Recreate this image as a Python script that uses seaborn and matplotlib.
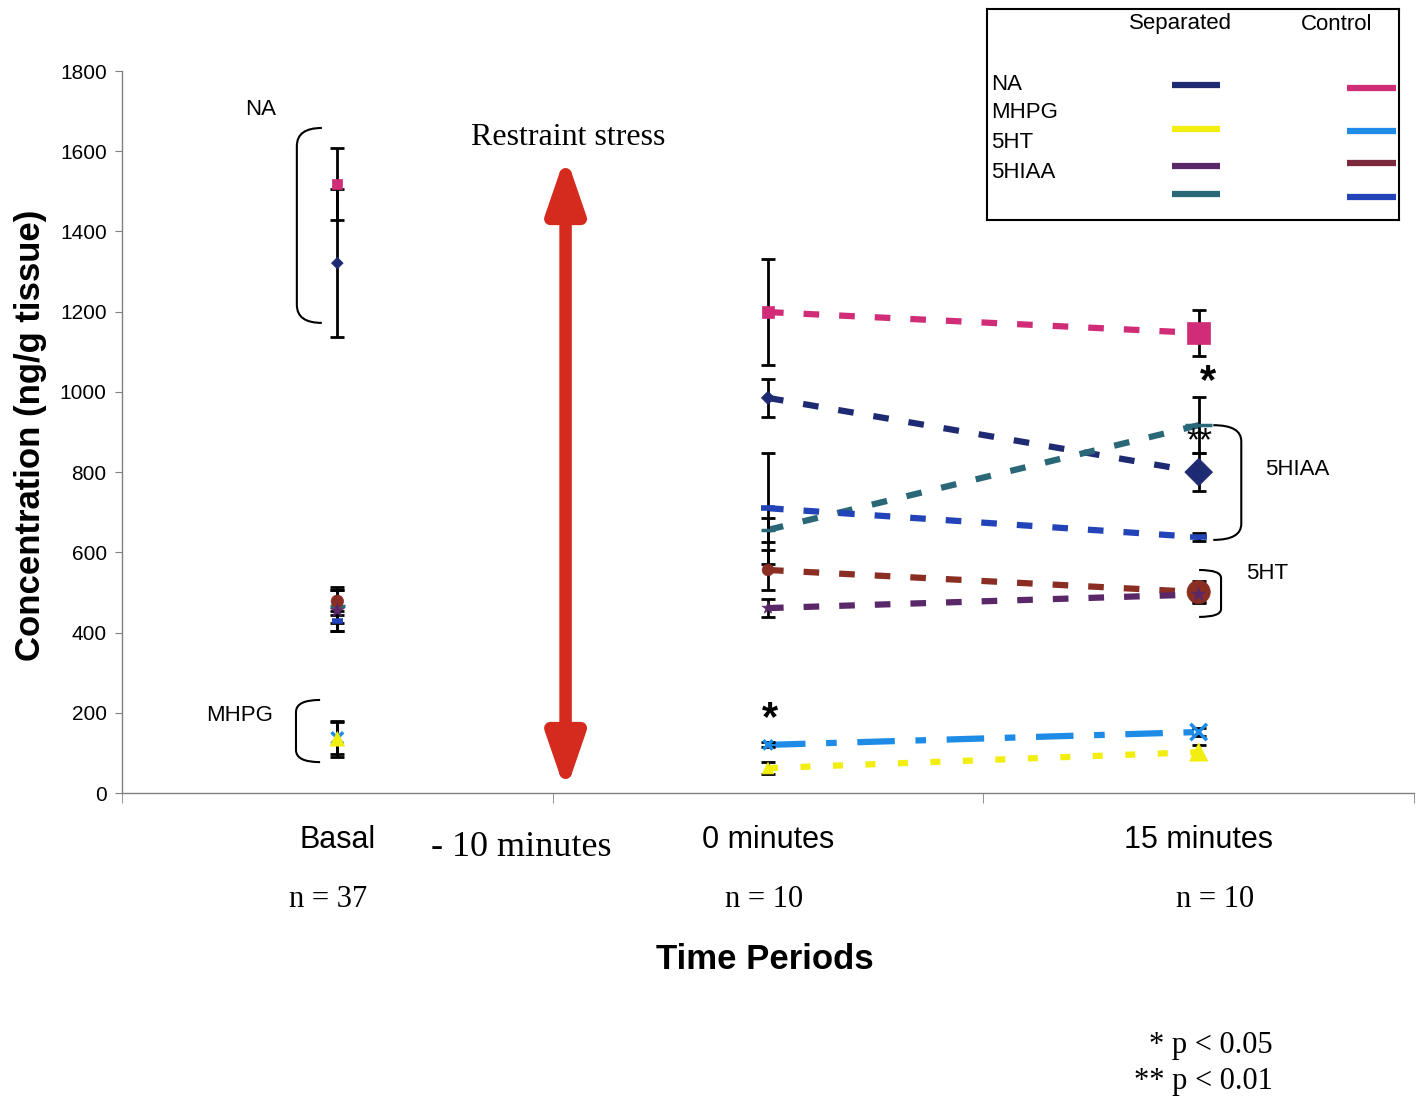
import numpy as np
import pandas as pd
import seaborn as sns
import matplotlib.pyplot as plt
from matplotlib.path import Path
from matplotlib.patches import PathPatch

# time periods on the category axis
periods = ["Basal", "0 minutes", "15 minutes"]
n_labels = ["n = 37", "n = 10", "n = 10"]

# mean concentrations (ng/g tissue), one value per period
na_sep = [1321, 985, 800]
na_con = [1518, 1199, 1147]
mhpg_sep = [135, 62, 102]
mhpg_con = [137, 120, 152]
ht_sep = [455, 461, 495]
ht_con = [478, 556, 501]
hiaa_sep = [465, 656, 917]
hiaa_con = [430, 710, 638]

# error bar half lengths
na_sep_err = [185, 48, 47]
na_con_err = [90, 133, 57]
mhpg_sep_err = [45, 15, 17]
mhpg_con_err = [40, 6, 10]
ht_sep_err = [50, 22, 20]
ht_con_err = [35, 50, 28]
hiaa_sep_err = [40, 30, 70]
hiaa_con_err = [25, 138, 10]

sns.set_style("white")
plt.rcParams['font.family'] = ['Liberation Sans', 'DejaVu Sans']
plt.rcParams['text.color'] = 'black'
plt.rcParams['axes.labelcolor'] = 'black'
plt.rcParams['xtick.color'] = 'black'
plt.rcParams['ytick.color'] = 'black'
serif = ['Liberation Serif', 'DejaVu Serif']

fig = plt.figure(figsize=(14.24, 10.99), dpi=100)
ax = fig.add_axes([0.08567, 0.27843, 0.90730, 0.65696])

x = np.arange(len(periods))

# series: values, errors, colour, marker, marker sizes, line style
series = [
    (na_con, na_con_err, "#d02c78", "s", [55, 70, 260], (0, (2.5, 3.2))),
    (na_sep, na_sep_err, "#1e2a72", "D", [35, 45, 200], (0, (2.5, 3.2))),
    (hiaa_sep, hiaa_sep_err, "#2a6878", "_", [120, 90, 380], (0, (2.5, 3.2))),
    (hiaa_con, hiaa_con_err, "#2244b8", "_", [60, 90, 150], (0, (2.5, 3.2))),
    (ht_con, ht_con_err, "#8a2e24", "o", [80, 70, 280], (0, (2.5, 3.2))),
    (ht_sep, ht_sep_err, "#5a2868", "*", [110, 80, 110], (0, (2.5, 3.2))),
    (mhpg_con, mhpg_con_err, "#1e8ce6", "x", [70, 45, 140], (0, (6, 3.3, 1.7, 3.3))),
    (mhpg_sep, mhpg_sep_err, "#f2ee10", "^", [110, 70, 170], (0, (1.6, 3.6))),
]

for vals, errs, col, mk, sizes, ls in series:
    # dashed line only between 0 and 15 minutes
    sns.lineplot(x=x[1:], y=vals[1:], color=col, lw=4.5, linestyle=ls,
                 dash_capstyle='butt', ax=ax, zorder=2)
    ax.errorbar(x, vals, yerr=errs, fmt='none', ecolor='black', elinewidth=2,
                capsize=5, capthick=2, zorder=3)

for vals, errs, col, mk, sizes, ls in series:
    if mk in ("x", "_"):
        lw = 4 if col == "#2244b8" else 2.5
        sns.scatterplot(x=x, y=vals, marker=mk, s=sizes, color=col,
                        linewidth=lw, ax=ax, zorder=4)
    else:
        sns.scatterplot(x=x, y=vals, marker=mk, s=sizes, color=col,
                        edgecolor=col, linewidth=0.5, ax=ax, zorder=4)

ax.set_xlim(-0.5, 2.5)
ax.set_ylim(0, 1800)
ax.set_yticks(range(0, 1801, 200))
ax.tick_params(axis='y', labelsize=15, length=5, direction='out', color='#808080',
               left=True, pad=6)
ax.set_xticks(x, periods)
ax.set_xticks([-0.5, 0.5, 1.5, 2.5], minor=True)
ax.tick_params(axis='x', which='major', length=0, labelsize=22, pad=23)
ax.tick_params(axis='x', which='minor', length=7, direction='out', color='#808080',
               bottom=True)
for s in ['top', 'right']:
    ax.spines[s].set_visible(False)
for s in ['left', 'bottom']:
    ax.spines[s].set_color('#808080')
    ax.spines[s].set_linewidth(1)

ax.set_ylabel("Concentration (ng/g tissue)", fontsize=25, fontweight='bold')
ax.yaxis.set_label_coords(-0.058, 0.496)
ax.set_xlabel("")

trans = ax.get_xaxis_transform()
for xi, lab in zip([-0.022, 0.992, 2.038], n_labels):
    ax.text(xi, -0.148, lab, transform=trans, ha='center', va='center',
            fontsize=22, family=serif)
ax.text(0.428, -0.075, "- 10 minutes", transform=trans, ha='center', va='center',
        fontsize=26, family=serif)
ax.text(0.992, -0.231, "Time Periods", transform=trans, ha='center', va='center',
        fontsize=25, fontweight='bold')

# restraint stress arrow
ax.text(0.535, 1635, "Restraint stress", ha='center', va='center', fontsize=23,
        family=serif)
ax.annotate("", xy=(0.53, 3), xytext=(0.53, 1590),
            arrowprops=dict(arrowstyle="<|-|>,head_width=0.55,head_length=1.6",
                            mutation_scale=20, lw=9, color="#d42b1e",
                            shrinkA=0, shrinkB=0))


def bracket(x_open, x_back, y_bot, y_top, r):
    # rounded bracket, x_back is the spine side
    verts = [(x_open, y_top), (x_back, y_top), (x_back, y_top - r),
             (x_back, y_bot + r), (x_back, y_bot), (x_open, y_bot)]
    codes = [Path.MOVETO, Path.CURVE3, Path.CURVE3, Path.LINETO,
             Path.CURVE3, Path.CURVE3]
    ax.add_patch(PathPatch(Path(verts, codes), fill=False, lw=1.5,
                           edgecolor='black', zorder=5))


bracket(-0.036, -0.094, 1172, 1658, 45)
bracket(-0.04, -0.096, 77, 232, 30)
bracket(2.034, 2.099, 631, 917, 40)
bracket(2.001, 2.052, 439, 556, 20)

ax.text(-0.177, 1705, "NA", ha='center', va='center', fontsize=16)
ax.text(-0.226, 192, "MHPG", ha='center', va='center', fontsize=16)
ax.text(2.23, 806, "5HIAA", ha='center', va='center', fontsize=16)
ax.text(2.16, 546, "5HT", ha='center', va='center', fontsize=16)

# significance stars
ax.text(2.022, 1025, "*", ha='center', va='center', fontsize=30, fontweight='bold')
ax.text(2.001, 875, "**", ha='center', va='center', fontsize=24)
ax.text(1.005, 185, "*", ha='center', va='center', fontsize=30, fontweight='bold')

fig.text(1273 / 1424, 1 - 1046 / 1099, "* p < 0.05", ha='right', va='center',
         fontsize=22, family=serif)
fig.text(1273 / 1424, 1 - 1082 / 1099, "** p < 0.01", ha='right', va='center',
         fontsize=22, family=serif)

# legend box drawn by hand, Excel style
lg = fig.add_axes([987 / 1424, 1 - 220 / 1099, 412 / 1424, 211 / 1099])
lg.set_xlim(0, 412)
lg.set_ylim(211, 0)
lg.set_xticks([])
lg.set_yticks([])
for s in lg.spines.values():
    s.set_color('black')
    s.set_linewidth(1.5)
lg.text(193, 15, "Separated", ha='center', va='center', fontsize=16)
lg.text(350, 15, "Control", ha='center', va='center', fontsize=16)
for yy, lab in zip([75, 104, 134, 164], ["NA", "MHPG", "5HT", "5HIAA"]):
    lg.text(4, yy, lab, ha='left', va='center', fontsize=16)
sep_cols = ["#1e2a72", "#f2ee10", "#5a2868", "#2a6878"]
con_cols = ["#d02c78", "#1e8ce6", "#7a2a3c", "#2244b8"]
for yy, c in zip([76, 120, 157, 185], sep_cols):
    lg.plot([185, 233], [yy, yy], color=c, lw=4.5, solid_capstyle='butt')
for yy, c in zip([79, 122, 154, 188], con_cols):
    lg.plot([360, 409], [yy, yy], color=c, lw=4.5, solid_capstyle='butt')

plt.savefig("out.png", dpi=100)
